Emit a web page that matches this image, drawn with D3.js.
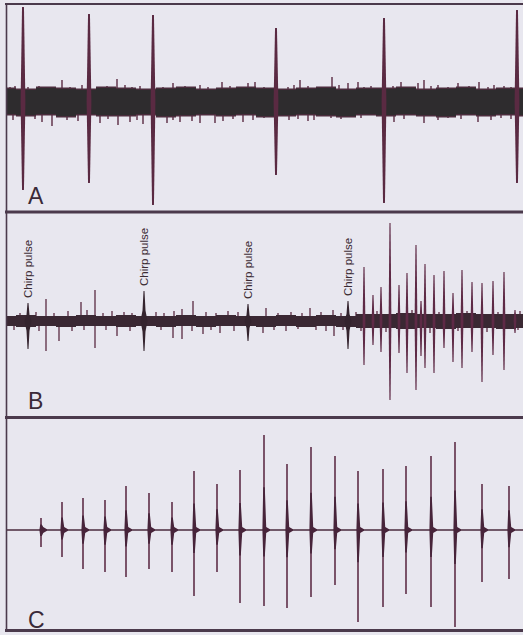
<!DOCTYPE html>
<html>
<head>
<meta charset="utf-8">
<script src="https://cdn.jsdelivr.net/npm/d3@7"></script>
<style>
  body { margin: 0; background: #e8e7ef; }
  text { font-family: 'Liberation Sans', Arial, sans-serif; }
</style>
</head>
<body>
<div id="fig"></div>
<script>
// times in ms across the sweep (0-517), amplitudes in arbitrary units

// --- Panel A: spontaneous activity, few large units ---
const aSpikeT = [17, 83, 147, 270, 378, 511];
const aSpikeUp = [95, 88, 87, 74, 84, 92];
const aSpikeDown = [88, 81, 103, 73, 101, 81];
const aNoiseUp = [[4, 15], [9, 16], [22, 15], [33, 16], [38, 14], [56, 22], [64, 15], [76, 17],
  [94, 15], [101, 16], [111, 23], [119, 17], [126, 15], [134, 16], [157, 15], [167, 19],
  [176, 15], [179, 16], [187, 15], [194, 17], [202, 15], [216, 20], [224, 16], [234, 15],
  [242, 19], [249, 20], [258, 15], [282, 15], [288, 17], [294, 22], [302, 16], [312, 15],
  [326, 25], [333, 17], [342, 19], [352, 20], [358, 15], [365, 16], [387, 16], [395, 20],
  [403, 15], [412, 19], [418, 22], [425, 16], [432, 17], [442, 15], [452, 19], [463, 16],
  [473, 20], [482, 15], [488, 17], [498, 16], [505, 15]];
const aNoiseDown = [[7, -18], [29, -17], [36, -20], [46, -24], [61, -18], [72, -19], [94, -21],
  [102, -17], [112, -23], [124, -20], [131, -18], [137, -22], [161, -21], [167, -18],
  [174, -20], [186, -19], [194, -21], [209, -21], [217, -19], [227, -17], [237, -20],
  [247, -18], [258, -16], [283, -18], [292, -17], [302, -19], [308, -18], [325, -16],
  [335, -17], [355, -16], [388, -20], [398, -17], [418, -21], [432, -18], [442, -16],
  [455, -17], [472, -20], [485, -18], [495, -16], [505, -17]];
const bandT = [0, 20, 40, 60, 80, 100, 120, 140, 160, 180, 200, 220, 240, 260, 280, 300, 320,
  340, 360, 380, 400, 420, 440, 460, 480, 500, 520];
const aBandHi = [13, 12, 14, 13, 12, 14, 13, 12, 13, 14, 12, 13, 14, 13, 12, 13, 14, 12, 13,
  13, 14, 12, 13, 14, 12, 13, 13];
const aBandLo = [-12, -13, -12, -14, -12, -13, -13, -12, -14, -13, -12, -13, -12, -14, -13,
  -12, -13, -14, -12, -13, -12, -13, -14, -12, -13, -12, -13];

// --- Panel B: response to chirp pulses ---
const chirpT = [22, 138, 242, 342];
const chirpUp = [18, 30, 17, 20];
const chirpDown = [28, 30, 20, 28];
const chirpLabel = 'Chirp pulse';
const bTrainT = [358, 367, 375, 384, 393, 401, 410, 415, 419, 428, 438, 447, 456, 466, 476, 487, 498, 509];
const bTrainUp = [54, 26, 34, 98, 36, 48, 76, 20, 57, 46, 50, 28, 51, 39, 38, 40, 49, 11];
const bTrainDown = [44, 24, 31, 79, 32, 52, 69, 35, 47, 52, 27, 41, 47, 31, 61, 34, 49, 12];
const bNoiseUp = [[14, 8], [30, 9], [40, 22], [48, 8], [62, 10], [75, 19], [81, 11], [89, 31],
  [97, 8], [106, 10], [118, 9], [126, 8], [150, 9], [158, 8], [168, 10], [176, 12], [187, 20],
  [200, 9], [210, 8], [222, 10], [232, 9], [260, 13], [272, 8], [285, 9], [296, 8], [304, 13],
  [315, 9], [327, 11], [335, 8], [350, 9], [371, 10], [406, 11], [433, 9], [461, 10], [492, 9], [514, 10]];
const bNoiseDown = [[8, -9], [33, -10], [40, -30], [53, -20], [66, -10], [78, -9], [89, -27],
  [100, -9], [111, -15], [124, -10], [155, -9], [167, -17], [176, -18], [186, -10], [197, -13],
  [205, -9], [214, -12], [228, -10], [257, -12], [268, -9], [280, -10], [292, -8], [310, -9],
  [320, -10], [328, -15], [337, -9], [355, -10], [380, -11], [424, -12], [452, -10], [481, -11], [512, -9]];
const bBandHi = [5, 6, 5, 5, 6, 5, 6, 5, 5, 6, 5, 6, 5, 5, 6, 5, 6, 5, 7, 7, 8, 7, 7, 8, 7, 7, 7];
const bBandLo = [-5, -6, -5, -6, -5, -5, -6, -5, -6, -5, -6, -5, -5, -6, -5, -6, -5, -6, -7,
  -7, -8, -7, -8, -7, -7, -8, -7];

// --- Panel C: clean single-unit train ---
const cSpikeT = [35, 56, 77, 99, 120, 143, 166, 188, 211, 234, 258, 281, 305, 329, 352, 377, 400, 425, 449, 476, 503];
const cSpikeUp = [12, 28, 32, 30, 44, 37, 28, 59, 46, 60, 95, 66, 83, 74, 59, 61, 64, 74, 88, 46, 44];
const cSpikeDown = [17, 27, 39, 42, 47, 39, 42, 66, 42, 73, 76, 78, 67, 55, 92, 77, 64, 77, 97, 52, 49];

const panelLabels = ['A', 'B', 'C'];

const width = 523, height = 635;
const spikeColor = '#5a2a42';
const coreColor = '#2e2c2e';
const frameColor = '#4b3a4c';

const svg = d3.select('#fig').append('svg')
  .attr('width', width).attr('height', height)
  .attr('viewBox', `0 0 ${width} ${height}`);

svg.append('rect').attr('width', width).attr('height', height).attr('fill', '#e8e7ef');

const x = d3.scaleLinear().domain([0, 517]).range([6, 523]);

const panels = [
  { top: 5, bottom: 211, base: 102 },
  { top: 213, bottom: 416, base: 321 },
  { top: 419, bottom: 629, base: 530 },
];
panels.forEach((p) => {
  p.y = d3.scaleLinear().domain([-100, 100]).range([p.base + 100, p.base - 100]);
});

const defs = svg.append('defs');
panels.forEach((p, i) => {
  defs.append('clipPath').attr('id', 'clip' + i)
    .append('rect')
    .attr('x', 7).attr('y', p.top)
    .attr('width', width - 7).attr('height', p.bottom - p.top);
});
const gA = svg.append('g').attr('clip-path', 'url(#clip0)');
const gB = svg.append('g').attr('clip-path', 'url(#clip1)');
const gC = svg.append('g').attr('clip-path', 'url(#clip2)');

// noise band as an area between envelope values
const drawBand = (g, y, hi, lo, fill) => {
  const area = d3.area()
    .x((d, i) => x(bandT[i]))
    .y0((d, i) => y(lo[i]))
    .y1((d, i) => y(hi[i]))
    .curve(d3.curveStep);
  g.append('path').datum(hi).attr('d', area).attr('fill', fill);
};

// small noise spikes from the baseline
const drawTicks = (g, y, data, color, w) => {
  g.selectAll(null).data(data).enter().append('line')
    .attr('x1', (d) => x(d[0])).attr('x2', (d) => x(d[0]))
    .attr('y1', y(0)).attr('y2', (d) => y(d[1]))
    .attr('stroke', color).attr('stroke-width', w);
};

// big spikes as thin spindles
const spindle = (t, up, down, y, hw) => {
  const cx = x(t), b = y(0);
  return `M${cx - hw},${b} L${cx - hw * 0.4},${y(up)} L${cx + hw * 0.4},${y(up)} L${cx + hw},${b}` +
    ` L${cx + hw * 0.4},${y(-down)} L${cx - hw * 0.4},${y(-down)} Z`;
};

// Panel A
const pA = panels[0];
drawTicks(gA, pA.y, aNoiseUp, spikeColor, 1.4);
drawTicks(gA, pA.y, aNoiseDown, spikeColor, 1.4);
drawBand(gA, pA.y, aBandHi.map((v) => v + 1.5), aBandLo.map((v) => v - 1.5), '#4a2c3c');
drawBand(gA, pA.y, aBandHi, aBandLo, coreColor);
gA.selectAll('.bigA').data(aSpikeT).enter().append('path')
  .attr('d', (t, i) => spindle(t, aSpikeUp[i], aSpikeDown[i], pA.y, 2.4))
  .attr('fill', spikeColor);

// Panel B
const pB = panels[1];
drawTicks(gB, pB.y, bNoiseUp, spikeColor, 1.3);
drawTicks(gB, pB.y, bNoiseDown, spikeColor, 1.3);
drawBand(gB, pB.y, bBandHi, bBandLo, '#3a2833');
gB.selectAll('.chirp').data(chirpT).enter().append('path')
  .attr('d', (t, i) => {
    const cx = x(t), b = pB.y(0), up = chirpUp[i], dn = chirpDown[i];
    return `M${cx - 3.5},${b} L${cx - 1.5},${pB.y(up * 0.35)} L${cx - 0.5},${pB.y(up)} L${cx + 0.5},${pB.y(up)}` +
      ` L${cx + 1.5},${pB.y(up * 0.35)} L${cx + 3.5},${b} L${cx + 1.5},${pB.y(-dn * 0.35)} L${cx + 0.5},${pB.y(-dn)}` +
      ` L${cx - 0.5},${pB.y(-dn)} L${cx - 1.5},${pB.y(-dn * 0.35)} Z`;
  })
  .attr('fill', '#34242e');
gB.selectAll('.train').data(bTrainT).enter().append('path')
  .attr('d', (t, i) => spindle(t, bTrainUp[i], bTrainDown[i], pB.y, 1.4))
  .attr('fill', '#5e2a46');
svg.selectAll('.chirpLabel').data(chirpT).enter().append('text')
  .attr('transform', (t, i) => `translate(${x(t)},${pB.y(chirpUp[i] + 5)}) rotate(-90)`)
  .attr('dy', '0.36em')
  .attr('font-size', 11.5)
  .attr('fill', '#3a2a33')
  .text(chirpLabel);

// Panel C
const pC = panels[2];
gC.append('line')
  .attr('x1', x(0)).attr('x2', x(517))
  .attr('y1', pC.y(0)).attr('y2', pC.y(0))
  .attr('stroke', '#4a2a3c').attr('stroke-width', 1.6);
gC.selectAll('.cLine').data(cSpikeT).enter().append('line')
  .attr('x1', (t) => x(t)).attr('x2', (t) => x(t))
  .attr('y1', (t, i) => pC.y(cSpikeUp[i])).attr('y2', (t, i) => pC.y(-cSpikeDown[i]))
  .attr('stroke', '#5e2f48').attr('stroke-width', 1.6);
gC.selectAll('.cBody').data(cSpikeT).enter().append('path')
  .attr('d', (t, i) => {
    const cx = x(t), b = pC.y(0);
    const top = pC.y(cSpikeUp[i] * 0.45), bot = pC.y(-cSpikeDown[i] * 0.35);
    return `M${cx - 0.8},${top} L${cx + 0.8},${top} L${cx + 2.2},${b - 3} L${cx + 6},${b - 0.8}` +
      ` L${cx + 6},${b + 0.8} L${cx + 2.2},${b + 3} L${cx + 0.8},${bot} L${cx - 0.8},${bot} L${cx - 1.6},${b} Z`;
  })
  .attr('fill', '#47243a');

// frame lines
const frame = svg.append('g').attr('stroke', frameColor).attr('fill', 'none');
frame.append('line').attr('x1', 5).attr('x2', width).attr('y1', 4).attr('y2', 4).attr('stroke-width', 2);
frame.append('line').attr('x1', 5).attr('x2', width).attr('y1', 212).attr('y2', 212).attr('stroke-width', 3);
frame.append('line').attr('x1', 5).attr('x2', width).attr('y1', 417.5).attr('y2', 417.5).attr('stroke-width', 3);
frame.append('line').attr('x1', 5).attr('x2', width).attr('y1', 630.5).attr('y2', 630.5).attr('stroke-width', 3);
frame.append('line').attr('x1', 6.5).attr('x2', 6.5).attr('y1', 3).attr('y2', 632).attr('stroke-width', 1.6);

// panel letters
svg.selectAll('.letter').data(panelLabels).enter().append('text')
  .attr('x', 28)
  .attr('y', (d, i) => [204, 409, 628][i])
  .attr('font-size', 23)
  .attr('fill', '#3a2a38')
  .text((d) => d);
</script>
</body>
</html>
